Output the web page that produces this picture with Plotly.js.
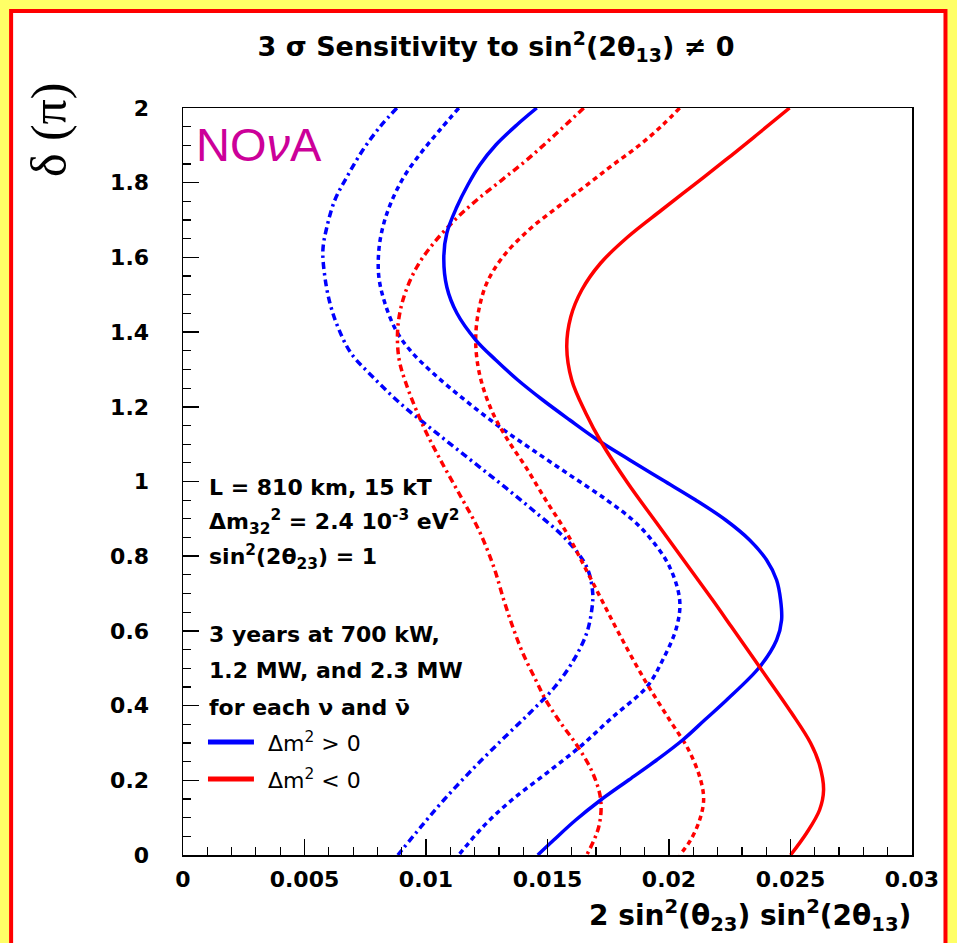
<!DOCTYPE html>
<html>
<head>
<meta charset="utf-8">
<script src="https://cdn.plot.ly/plotly-3.0.1.min.js"></script>
<style>html,body{margin:0;padding:0;background:#ffff66;}#chart{width:957px;height:943px;}</style>
</head>
<body>
<div id="chart"></div>
<script>
// ---- data: delta (units of pi) vs 2 sin^2(theta23) sin^2(2 theta13) at 3 sigma ----
// Delta m^2 > 0 (blue), 700 kW (solid)
const blue700_d = [2.0,1.9545,1.9009,1.8474,1.7938,1.7349,1.6653,1.6011,1.5207,1.4511,1.3788,1.3253,1.2718,1.2182,1.1647,1.1111,1.0576,1.0040,0.9505,0.8969,0.8434,0.7898,0.7363,0.6827,0.6292,0.5756,0.5033,0.4150,0.3614,0.3079,0.2543,0.2008,0.1473,0.0937,0.0402,0];
const blue700_x = [0.014558,0.013735,0.012872,0.012214,0.011720,0.011268,0.010857,0.010733,0.010857,0.011268,0.012049,0.012872,0.013777,0.014805,0.015915,0.017067,0.018382,0.019740,0.021097,0.022331,0.023317,0.024016,0.024428,0.024592,0.024633,0.024428,0.023729,0.022371,0.021467,0.020562,0.019493,0.018341,0.017190,0.016162,0.015257,0.014599];
// Delta m^2 > 0, 1.2 MW (dashed)
const blue1200_d = [2.0,1.9411,1.8795,1.8153,1.7456,1.6814,1.6198,1.5475,1.4779,1.4056,1.3521,1.2905,1.2182,1.1459,1.0843,1.0174,0.9505,0.8969,0.8434,0.7711,0.6827,0.6104,0.5221,0.4498,0.3695,0.2892,0.2195,0.1473,0.0750,0];
const blue1200_x = [0.011350,0.010569,0.009788,0.009088,0.008554,0.008225,0.008060,0.008060,0.008307,0.008759,0.009335,0.010281,0.011597,0.013036,0.014393,0.015915,0.017437,0.018506,0.019287,0.020027,0.020439,0.020315,0.019740,0.019082,0.017683,0.016326,0.014969,0.013530,0.012337,0.011350];
// Delta m^2 > 0, 2.3 MW (dash-dot)
const blue2300_d = [2.0,1.9491,1.8876,1.8153,1.7537,1.6814,1.6198,1.5475,1.4779,1.4137,1.3441,1.2798,1.2102,1.1379,1.0656,0.9960,0.9237,0.8434,0.7711,0.7015,0.6560,0.5944,0.5221,0.4498,0.3802,0.3079,0.2276,0.1473,0.0750,0];
const blue2300_x = [0.008801,0.008101,0.007402,0.006744,0.006251,0.005922,0.005757,0.005840,0.006045,0.006374,0.006909,0.007814,0.008924,0.010281,0.011679,0.013036,0.014393,0.015792,0.016614,0.016861,0.016820,0.016614,0.016080,0.015298,0.014270,0.013119,0.011885,0.010733,0.009788,0.008842];
// Delta m^2 < 0 (red), 700 kW (solid)
const red700_d = [2.0,1.9277,1.8608,1.7938,1.7269,1.6546,1.5850,1.5127,1.4404,1.3601,1.2718,1.1834,1.1031,0.9960,0.8889,0.7711,0.6827,0.6104,0.5033,0.3802,0.2999,0.2410,0.1740,0.1205,0.0589,0];
const red700_x = [0.024962,0.023605,0.022331,0.021014,0.019698,0.018300,0.017190,0.016409,0.015956,0.015792,0.015997,0.016573,0.017231,0.018300,0.019493,0.020809,0.021796,0.022577,0.023729,0.025045,0.025826,0.026196,0.026361,0.026196,0.025662,0.025004];
// Delta m^2 < 0, 1.2 MW (dashed)
const red1200_d = [2.0,1.9545,1.9009,1.8474,1.7938,1.7349,1.6734,1.6011,1.5315,1.4592,1.3922,1.3307,1.2637,1.1834,1.1111,1.0388,0.9505,0.8621,0.7711,0.6827,0.5944,0.4685,0.3614,0.2811,0.2008,0.1473,0.0937,0.0402,0];
const red1200_x = [0.020439,0.019740,0.018794,0.017683,0.016614,0.015422,0.014229,0.013160,0.012502,0.012173,0.012049,0.012091,0.012296,0.012748,0.013365,0.014106,0.014928,0.015792,0.016532,0.017231,0.017930,0.018999,0.020027,0.020809,0.021302,0.021425,0.021261,0.020891,0.020439];
// Delta m^2 < 0, 2.3 MW (dash-dot)
const red2300_d = [2.0,1.9277,1.8608,1.8072,1.7537,1.7001,1.6386,1.5743,1.4940,1.4137,1.3307,1.2637,1.1566,1.0656,0.9692,0.8701,0.7711,0.6827,0.6104,0.5408,0.4685,0.4150,0.3534,0.2945,0.2195,0.1473,0.0750,0];
const red2300_x = [0.016491,0.015298,0.014147,0.013119,0.012091,0.011186,0.010322,0.009623,0.009088,0.008842,0.008883,0.009171,0.009829,0.010528,0.011350,0.012173,0.012790,0.013201,0.013571,0.013982,0.014517,0.014928,0.015545,0.016203,0.016861,0.017190,0.017108,0.016614];

// ticks
const xTickVals = [0,0.005,0.01,0.015,0.02,0.025,0.03];
const xTickText = ["0","0.005","0.01","0.015","0.02","0.025","0.03"];
const yTickVals = [0,0.2,0.4,0.6,0.8,1,1.2,1.4,1.6,1.8,2];
const yTickText = ["0","0.2","0.4","0.6","0.8","1","1.2","1.4","1.6","1.8","2"];

// text
const titleText = "3 σ Sensitivity to sin<sup>2</sup>(2θ<sub>13</sub>) ≠ 0";
const xTitleText = "2 sin<sup>2</sup>(θ<sub>23</sub>) sin<sup>2</sup>(2θ<sub>13</sub>)";
const yTitleText = "δ (π)";
const infoLines = ["L = 810 km, 15 kT",
  "Δm<sub>32</sub><sup>2</sup> = 2.4 10<sup>-3</sup> eV<sup>2</sup>",
  "sin<sup>2</sup>(2θ<sub>23</sub>) = 1",
  "3 years at 700 kW,",
  "1.2 MW, and 2.3 MW",
  "for each ν and ν̄"];
const legendLabels = ["Δm<sup>2</sup> &gt; 0","Δm<sup>2</sup> &lt; 0"];

// ---- layout geometry (pixels) ----
const W=957, H=943, L=183, R=912.5, T=108, B=855;
const px = x => (x-L)/(R-L);
const py = y => (B-y)/(B-T);
const BLUE="#0000ff", RED="#ff0000";
const DASH="5px,4px", DASHDOT="7px,4px,2.5px,4px";

function tr(x,y,color,dash,width){
  return {x:x, y:y, type:'scatter', mode:'lines', showlegend:false, hoverinfo:'skip',
    line:{color:color, dash:dash, width:width, shape:'spline', smoothing:1}};
}
const traces = [
  tr(blue2300_x, blue2300_d, BLUE, DASHDOT, 3.5),
  tr(blue1200_x, blue1200_d, BLUE, DASH, 3.5),
  tr(red2300_x, red2300_d, RED, DASHDOT, 3.5),
  tr(red1200_x, red1200_d, RED, DASH, 3.5),
  tr(blue700_x, blue700_d, BLUE, 'solid', 3.5),
  tr(red700_x, red700_d, RED, 'solid', 3.5)
];

const F = "DejaVu Sans";
const infoY = [487,522,557,634,670,707];
const annotations = infoLines.map((t,i)=>({
  text:t, xref:'paper', yref:'paper', x:px(207), y:py(infoY[i]), xanchor:'left', yanchor:'middle',
  showarrow:false, font:{family:F, size:22, color:'#000', weight:'bold'}
}));
[742,779].forEach((yy,i)=>annotations.push({
  text:legendLabels[i], xref:'paper', yref:'paper', x:px(266), y:py(yy), xanchor:'left', yanchor:'middle',
  showarrow:false, font:{family:F, size:22, color:'#000'}
}));
annotations.push({text:"NO<i>ν</i>A", xref:'paper', yref:'paper', x:px(194), y:py(145), xanchor:'left', yanchor:'middle',
  showarrow:false, font:{family:"Liberation Sans", size:47, color:'#cc0099'}});
annotations.push({text:yTitleText, xref:'paper', yref:'paper', x:px(49), y:py(130), xanchor:'center', yanchor:'middle',
  textangle:-90, showarrow:false, font:{family:"Liberation Serif", size:50, color:'#000'}});
annotations.push({text:xTitleText, xref:'paper', yref:'paper', x:px(914), y:py(916), xanchor:'right', yanchor:'middle',
  showarrow:false, font:{family:F, size:28, color:'#000', weight:'bold'}});

const shapes = [
  {type:'rect', xref:'paper', yref:'paper', x0:px(11), x1:px(946), y0:py(11), y1:py(1000),
   fillcolor:'#ffffff', line:{color:RED, width:4}, layer:'below'},
  {type:'line', xref:'paper', yref:'paper', x0:px(208), x1:px(254), y0:py(742), y1:py(742), line:{color:BLUE, width:5}},
  {type:'line', xref:'paper', yref:'paper', x0:px(208), x1:px(254), y0:py(779), y1:py(779), line:{color:RED, width:5}}
];

const axisCommon = {showline:true, linecolor:'#000', linewidth:1.5, mirror:true, showgrid:false, zeroline:false,
  ticks:'inside', ticklen:16, tickwidth:1.5, tickcolor:'#000', fixedrange:true, tickmode:'array',
  tickfont:{family:F, size:22, color:'#000', weight:'bold'}};

const layout = {
  width:W, height:H, paper_bgcolor:'#ffff66', plot_bgcolor:'#ffffff',
  margin:{l:L, r:W-R, t:T, b:H-B, pad:0},
  title:{text:titleText, xref:'container', yref:'container', x:496/W, y:1-47/H, xanchor:'center', yanchor:'middle',
    font:{family:F, size:27, color:'#000', weight:'bold'}},
  xaxis:Object.assign({}, axisCommon, {range:[0,0.03], tickvals:xTickVals, ticktext:xTickText, ticklabelstandoff:4,
    minor:{tickmode:'linear', tick0:0, dtick:0.001, ticks:'inside', ticklen:8, tickwidth:1.2, tickcolor:'#000', showgrid:false}}),
  yaxis:Object.assign({}, axisCommon, {range:[0,2], tickvals:yTickVals, ticktext:yTickText, ticklabelstandoff:28,
    minor:{tickmode:'linear', tick0:0, dtick:0.05, ticks:'inside', ticklen:8, tickwidth:1.2, tickcolor:'#000', showgrid:false}}),
  annotations:annotations, shapes:shapes, showlegend:false
};

Plotly.newPlot('chart', traces, layout, {displayModeBar:false, staticPlot:true});
</script>
</body>
</html>
